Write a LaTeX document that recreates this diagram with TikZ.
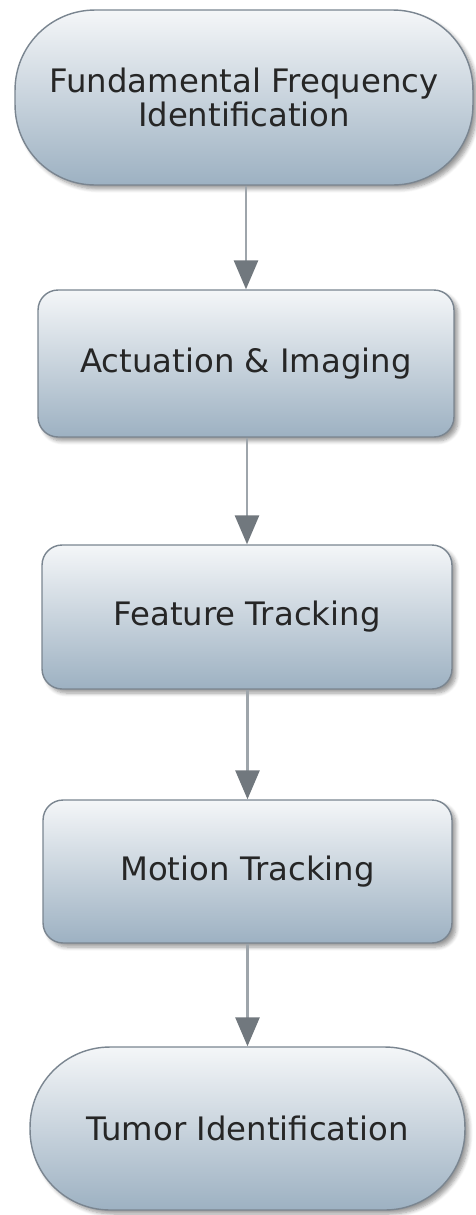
\documentclass[tikz,border=0pt]{standalone}
\usepackage{fontspec}
\setmainfont{DejaVu Sans}
\usetikzlibrary{arrows.meta,shadows.blur}

\definecolor{boxtop}{HTML}{F4F6F8}
\definecolor{boxbottom}{HTML}{9DB1C2}
\definecolor{boxline}{HTML}{7A8590}
\definecolor{flowline}{HTML}{9EA5AB}
\definecolor{flowhead}{HTML}{71787E}

\tikzset{
  stepnode/.style={draw=boxline, line width=0.8pt, top color=boxtop, bottom color=boxbottom,
    align=center, font=\fontsize{18.4}{19}\selectfont, text=black!85, inner sep=0pt,
    blur shadow={shadow xshift=0.08cm, shadow yshift=-0.08cm, shadow blur steps=6, shadow opacity=40}},
  terminal/.style={stepnode, rounded corners=1.6cm},
  process/.style={stepnode, rounded corners=0.4cm},
  flow/.style={draw=flowline, line width=1.6pt, -{Triangle[length=0.58cm, width=0.48cm, color=flowhead]}}
}

\begin{document}
\begin{tikzpicture}[x=0.02cm, y=-0.02cm]
    \useasboundingbox (0,0) rectangle (476,1215);

    % start and end
    \node[terminal, minimum width=9.16cm, minimum height=3.5cm] (fundamental) at (244,97.5)
      {Fundamental Frequency\\Identification};
    \node[terminal, minimum width=8.7cm, minimum height=3.26cm] (tumor) at (247.5,1128.5)
      {Tumor Identification};

    % steps
    \node[process, minimum width=8.32cm, minimum height=2.94cm] (actuation) at (246,363.5)
      {Actuation \& Imaging};
    \node[process, minimum width=8.2cm, minimum height=2.88cm] (feature) at (247,617)
      {Feature Tracking};
    \node[process, minimum width=8.18cm, minimum height=2.86cm] (motion) at (247.5,871.5)
      {Motion Tracking};

    % arrows
    \draw[flow] (fundamental.south -| actuation.north) -- (actuation.north);
    \draw[flow] (actuation.south -| feature.north) -- (feature.north);
    \draw[flow] (feature.south -| motion.north) -- (motion.north);
    \draw[flow] (motion.south -| tumor.north) -- (tumor.north);

\end{tikzpicture}
\end{document}
